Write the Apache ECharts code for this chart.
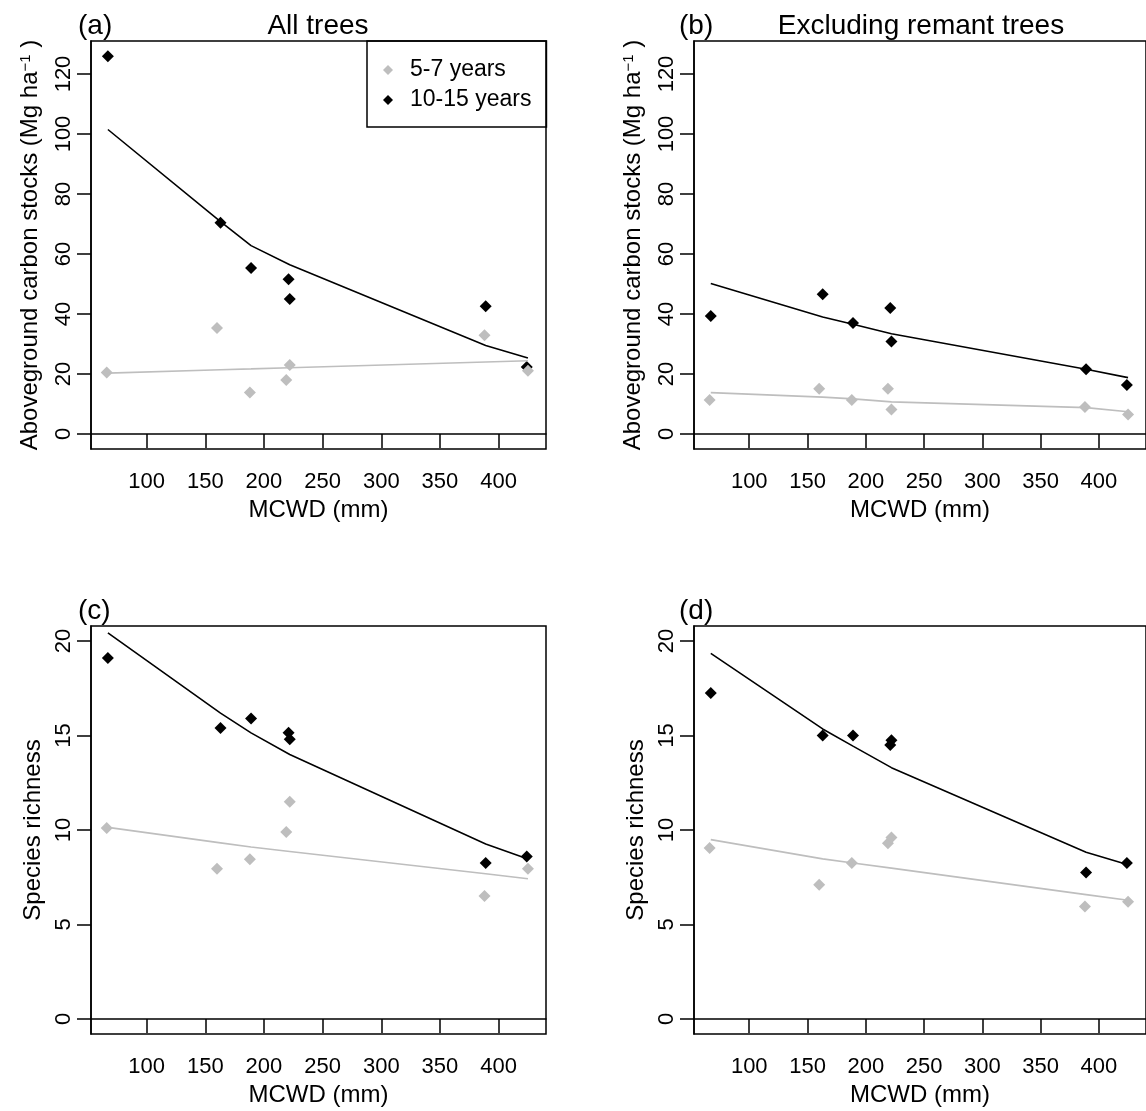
<!DOCTYPE html>
<html>
<head>
<meta charset="utf-8">
<script src="https://cdn.jsdelivr.net/npm/echarts@6/dist/echarts.min.js"></script>
<style>
  html, body { margin: 0; padding: 0; background: #fff; }
  #chart { width: 1146px; height: 1111px; }
</style>
</head>
<body>
<div id="chart"></div>
<script>
// MCWD (mm) of the sites, one array per age class
var mcwdYoung = [66, 160, 188, 219, 222, 388, 425];
var mcwdOld = [67, 163, 189, 221, 222, 389, 424];
// fitted curves are drawn through these MCWD values
var mcwdFit = [67, 163, 189, 222, 389, 425];

// (a) aboveground carbon, all trees
var carbonAllYoung = [20.5, 35.3, 13.8, 18.0, 23.0, 32.9, 21.1];
var carbonAllOld = [125.9, 70.4, 55.3, 51.6, 45.0, 42.6, 22.3];
var carbonAllFitYoung = [20.3, 21.4, 21.7, 22.1, 24.0, 24.4];
var carbonAllFitOld = [101.5, 70.8, 62.8, 56.4, 29.5, 25.3];

// (b) aboveground carbon, excluding remnant trees
var carbonExYoung = [11.3, 15.1, 11.3, 15.1, 8.2, 9.0, 6.5];
var carbonExOld = [39.3, 46.6, 37.0, 42.0, 30.8, 21.6, 16.3];
var carbonExFitYoung = [13.8, 12.3, 11.7, 10.7, 8.8, 7.4];
var carbonExFitOld = [50.2, 39.0, 36.6, 33.4, 21.6, 18.8];

// (c) species richness, all trees
var richAllYoung = [10.1, 7.95, 8.45, 9.9, 11.5, 6.5, 7.95];
var richAllOld = [19.1, 15.4, 15.9, 15.15, 14.8, 8.25, 8.6];
var richAllFitYoung = [10.14, 9.32, 9.1, 8.86, 7.68, 7.42];
var richAllFitOld = [20.44, 16.19, 15.14, 14.0, 9.26, 8.47];

// (d) species richness, excluding remnant trees
var richExYoung = [9.05, 7.1, 8.25, 9.3, 9.6, 5.95, 6.2];
var richExOld = [17.25, 15.0, 15.0, 14.5, 14.75, 7.75, 8.25];
var richExFitYoung = [9.49, 8.47, 8.25, 7.98, 6.58, 6.28];
var richExFitOld = [19.35, 15.35, 14.44, 13.30, 8.82, 8.16];

// tick labels
var xTicks = [100, 150, 200, 250, 300, 350, 400];
var yTicksCarbon = [0, 20, 40, 60, 80, 100, 120];
var yTicksRich = [0, 5, 10, 15, 20];

var ageNames = ['5-7 years', '10-15 years'];

var FONT = 'Liberation Sans, Arial, Helvetica, sans-serif';
var GREY = '#bebebe';
var BLACK = '#000000';

// zip two arrays into [x, y] pairs
function pairs(xs, ys) {
    var out = [];
    for (var i = 0; i < xs.length; i++) {
        out.push([xs[i], ys[i]]);
    }
    return out;
}

// x axis, R style: box + outward ticks
function makeX(gi) {
    return {
        type: 'value',
        gridIndex: gi,
        min: 52.6,
        max: 440.4,
        name: 'MCWD (mm)',
        nameLocation: 'middle',
        nameGap: 49,
        nameTextStyle: {fontSize: 24, color: BLACK, fontFamily: FONT},
        axisLine: {show: true, lineStyle: {color: BLACK, width: 1.5}},
        axisTick: {show: true, inside: false, length: 14, customValues: xTicks, lineStyle: {color: BLACK, width: 1.5}},
        axisLabel: {customValues: xTicks, margin: 22, fontSize: 22, color: BLACK, fontFamily: FONT},
        splitLine: {show: false}
    };
}

function makeY(gi, min, max, ticks, name, gap) {
    return {
        type: 'value',
        gridIndex: gi,
        min: min,
        max: max,
        name: name,
        nameLocation: 'middle',
        nameGap: gap,
        nameTextStyle: {
            fontSize: 24, color: BLACK, fontFamily: FONT,
            rich: {
                sup: {fontSize: 15, color: BLACK, fontFamily: FONT, verticalAlign: 'top', lineHeight: 12}
            }
        },
        axisLine: {show: true, lineStyle: {color: BLACK, width: 1.5}},
        axisTick: {show: true, inside: false, length: 14, customValues: ticks, lineStyle: {color: BLACK, width: 1.5}},
        axisLabel: {customValues: ticks, rotate: 90, margin: 16, fontSize: 22, color: BLACK, fontFamily: FONT},
        splitLine: {show: false}
    };
}

function pointSeries(gi, name, xs, ys, color) {
    return {
        name: name,
        type: 'scatter',
        xAxisIndex: gi,
        yAxisIndex: gi,
        symbol: 'diamond',
        symbolSize: 12,
        itemStyle: {color: color, opacity: 1},
        silent: true,
        data: pairs(xs, ys)
    };
}

function fitSeries(gi, name, ys, color) {
    return {
        name: name,
        type: 'line',
        xAxisIndex: gi,
        yAxisIndex: gi,
        showSymbol: false,
        symbol: 'none',
        lineStyle: {color: color, width: 1.6},
        itemStyle: {color: color},
        silent: true,
        z: 3,
        data: pairs(mcwdFit, ys)
    };
}

function panelText(x, y, text, align) {
    return {
        type: 'text',
        x: x,
        y: y,
        style: {text: text, font: '28px ' + FONT, fill: BLACK, textAlign: align, textVerticalAlign: 'middle'}
    };
}

var carbonName = 'Aboveground carbon stocks (Mg ha{sup|\u22121} )';
var panels = [
    {young: carbonAllYoung, old: carbonAllOld, fitYoung: carbonAllFitYoung, fitOld: carbonAllFitOld},
    {young: carbonExYoung, old: carbonExOld, fitYoung: carbonExFitYoung, fitOld: carbonExFitOld},
    {young: richAllYoung, old: richAllOld, fitYoung: richAllFitYoung, fitOld: richAllFitOld},
    {young: richExYoung, old: richExOld, fitYoung: richExFitYoung, fitOld: richExFitOld}
];

var grids = [
    {left: 91, top: 41, width: 455, height: 408},
    {left: 694, top: 41, width: 455, height: 408},
    {left: 91, top: 626, width: 455, height: 408},
    {left: 694, top: 626, width: 455, height: 408}
];
for (var g = 0; g < grids.length; g++) {
    grids[g].show = true;
    grids[g].borderColor = BLACK;
    grids[g].borderWidth = 1.5;
    grids[g].containLabel = false;
}

var xAxes = [];
var yAxes = [];
var series = [];
for (var i = 0; i < panels.length; i++) {
    xAxes.push(makeX(i));
    if (i < 2) {
        yAxes.push(makeY(i, -5, 131, yTicksCarbon, carbonName, 49));
    } else {
        yAxes.push(makeY(i, -0.8, 20.8, yTicksRich, 'Species richness', 46));
    }
    // black first, grey drawn over it
    series.push(pointSeries(i, ageNames[1], mcwdOld, panels[i].old, BLACK));
    series.push(pointSeries(i, ageNames[0], mcwdYoung, panels[i].young, GREY));
    series.push(fitSeries(i, 'fit ' + ageNames[0], panels[i].fitYoung, GREY));
    series.push(fitSeries(i, 'fit ' + ageNames[1], panels[i].fitOld, BLACK));
}

var chart = echarts.init(document.getElementById('chart'), null, {renderer: 'canvas'});
chart.setOption({
    animation: false,
    backgroundColor: '#ffffff',
    grid: grids,
    xAxis: xAxes,
    yAxis: yAxes,
    legend: {
        left: 367,
        top: 41,
        orient: 'vertical',
        data: ageNames,
        icon: 'diamond',
        itemWidth: 10,
        itemHeight: 10,
        itemGap: 6,
        padding: [17, 15, 15, 16],
        borderColor: BLACK,
        borderWidth: 1.5,
        borderRadius: 0,
        selectedMode: false,
        textStyle: {fontSize: 23, lineHeight: 24, color: BLACK, fontFamily: FONT, padding: [0, 0, 0, 12]}
    },
    graphic: [
        panelText(78, 26, '(a)', 'left'),
        panelText(318, 26, 'All trees', 'center'),
        panelText(679, 26, '(b)', 'left'),
        panelText(921, 26, 'Excluding remant trees', 'center'),
        panelText(78, 611, '(c)', 'left'),
        panelText(679, 611, '(d)', 'left')
    ],
    series: series
});
</script>
</body>
</html>
